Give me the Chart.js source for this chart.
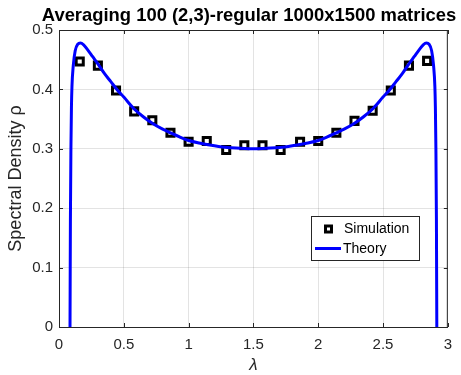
<!DOCTYPE html>
<html>
<head>
<meta charset="utf-8">
<script src="https://cdn.jsdelivr.net/npm/chart.js@4.4.0/dist/chart.umd.min.js"></script>
<style>
  html, body { margin: 0; padding: 0; background: #fff; }
  #wrap { width: 461px; height: 375px; position: relative; }
</style>
</head>
<body>
<div id="wrap"><canvas id="grafico"></canvas></div>
<script>
// simulated histogram (bin centres and densities)
const simX = [0.16, 0.30, 0.44, 0.58, 0.72, 0.86, 1.00, 1.14, 1.29, 1.43,
              1.57, 1.71, 1.86, 2.00, 2.14, 2.28, 2.42, 2.56, 2.70, 2.84];
const simY = [0.447, 0.440, 0.398, 0.363, 0.348, 0.327, 0.312, 0.313, 0.298, 0.306,
              0.306, 0.298, 0.312, 0.313, 0.327, 0.347, 0.364, 0.398, 0.440, 0.448];

// theory curve
const theoryX = [0.085, 0.088, 0.092, 0.096, 0.10, 0.11, 0.125, 0.145, 0.165, 0.19,
                 0.22, 0.26, 0.30, 0.35, 0.40, 0.45, 0.50, 0.58, 0.65, 0.72,
                 0.80, 0.86, 0.93, 1.00, 1.10, 1.20, 1.30, 1.40, 1.50,
                 1.60, 1.70, 1.80, 1.90, 2.00, 2.07, 2.14, 2.20, 2.28, 2.35,
                 2.42, 2.50, 2.55, 2.60, 2.65, 2.70, 2.74, 2.78, 2.81, 2.835,
                 2.855, 2.875, 2.89, 2.90, 2.904, 2.908, 2.912, 2.915];
const theoryY = [0, 0.18, 0.30, 0.37, 0.405, 0.44, 0.465, 0.476, 0.478, 0.475,
                 0.467, 0.455, 0.443, 0.427, 0.413, 0.399, 0.387, 0.367, 0.354, 0.343,
                 0.333, 0.327, 0.320, 0.314, 0.309, 0.305, 0.302, 0.301, 0.300,
                 0.301, 0.302, 0.305, 0.309, 0.314, 0.320, 0.327, 0.333, 0.343, 0.354,
                 0.367, 0.387, 0.399, 0.413, 0.427, 0.443, 0.455, 0.467, 0.475, 0.478,
                 0.476, 0.465, 0.44, 0.405, 0.37, 0.30, 0.18, 0];

const xTicks = [0, 0.5, 1, 1.5, 2, 2.5, 3];
const yTicks = [0, 0.1, 0.2, 0.3, 0.4, 0.5];

const titulo = "Averaging 100 (2,3)-regular 1000x1500 matrices";

const eixo = "#262626";
const fonte = "'Liberation Sans', Arial, sans-serif";

// box round the axes with inward ticks, as in MATLAB
const moldura = {
    id: "moldura",
    afterDatasetsDraw(chart){
        const ctx = chart.ctx;
        const a = chart.chartArea;
        const sx = chart.scales.x;
        const sy = chart.scales.y;
        ctx.save();
        ctx.strokeStyle = eixo;
        ctx.lineWidth = 1;
        ctx.strokeRect(a.left + 0.5, a.top + 0.5, a.right - a.left - 1, a.bottom - a.top);
        ctx.beginPath();
        xTicks.forEach(v => {
            const px = Math.round(sx.getPixelForValue(v)) + 0.5;
            ctx.moveTo(px, a.bottom); ctx.lineTo(px, a.bottom - 4);
            ctx.moveTo(px, a.top); ctx.lineTo(px, a.top + 4);
        });
        yTicks.forEach(v => {
            const py = Math.round(sy.getPixelForValue(v)) + 0.5;
            ctx.moveTo(a.left, py); ctx.lineTo(a.left + 4, py);
            ctx.moveTo(a.right, py); ctx.lineTo(a.right - 4, py);
        });
        ctx.stroke();
        ctx.restore();
    }
};

// title and legend box
const legenda = {
    id: "legenda",
    afterDraw(chart){
        const ctx = chart.ctx;
        ctx.save();
        ctx.fillStyle = "#000";
        ctx.font = "bold 18.4px " + fonte;
        ctx.textAlign = "center";
        ctx.textBaseline = "alphabetic";
        ctx.fillText(titulo, 249, 21);
        ctx.textAlign = "left";

        const bx = 311, by = 216, bw = 108, bh = 44;
        ctx.fillStyle = "#fff";
        ctx.fillRect(bx, by, bw, bh);
        ctx.strokeStyle = eixo;
        ctx.lineWidth = 1;
        ctx.strokeRect(bx + 0.5, by + 0.5, bw, bh);

        ctx.strokeStyle = "#000";
        ctx.lineWidth = 3;
        ctx.strokeRect(325.5, 226, 6, 6);

        ctx.strokeStyle = "#0000ff";
        ctx.beginPath();
        ctx.moveTo(315, 248.5);
        ctx.lineTo(341, 248.5);
        ctx.stroke();

        ctx.fillStyle = "#000";
        ctx.font = "14px " + fonte;
        ctx.textBaseline = "middle";
        ctx.fillText("Simulation", 344, 229);
        ctx.fillText("Theory", 343, 249);
        ctx.restore();
    }
};

new Chart(document.getElementById("grafico"), {
    type: "scatter",
    data: {
        datasets: [
            {
                label: "Theory",
                type: "line",
                data: theoryX.map((x, i) => ({ x: x, y: theoryY[i] })),
                borderColor: "#0000ff",
                borderWidth: 3,
                pointRadius: 0,
                fill: false,
                cubicInterpolationMode: "monotone",
                order: 0
            },
            {
                label: "Simulation",
                data: simX.map((x, i) => ({ x: x, y: simY[i] })),
                pointStyle: "rect",
                pointRadius: 5,
                pointBorderWidth: 3,
                pointBorderColor: "#000",
                pointBackgroundColor: "rgba(0,0,0,0)",
                order: 1
            }
        ]
    },
    options: {
        responsive: true,
        maintainAspectRatio: false,
        animation: false,
        layout: { padding: { left: 0, right: 12, top: 30, bottom: 0 } },
        plugins: {
            legend: { display: false },
            tooltip: { enabled: false },
            title: { display: false }
        },
        scales: {
            x: {
                type: "linear",
                min: 0,
                max: 3,
                afterBuildTicks: s => { s.ticks = xTicks.map(v => ({ value: v })); },
                afterFit: s => { s.height = 48; },
                ticks: {
                    color: eixo,
                    padding: 9,
                    font: { family: fonte, size: 15 },
                    callback: v => String(v)
                },
                grid: { color: "rgba(0,0,0,0.11)", drawTicks: false },
                border: { display: false },
                title: {
                    display: true,
                    text: "λ",
                    color: eixo,
                    padding: { top: 3, bottom: 0 },
                    font: { family: fonte, size: 17, style: "italic" }
                }
            },
            y: {
                type: "linear",
                min: 0,
                max: 0.5,
                afterBuildTicks: s => { s.ticks = yTicks.map(v => ({ value: v })); },
                afterFit: s => { s.width = 59; },
                ticks: {
                    color: eixo,
                    padding: 6,
                    font: { family: fonte, size: 15 },
                    callback: v => String(v)
                },
                grid: { color: "rgba(0,0,0,0.11)", drawTicks: false },
                border: { display: false },
                title: {
                    display: true,
                    text: "Spectral Density ρ",
                    color: eixo,
                    padding: { top: 5, bottom: 0 },
                    font: { family: fonte, size: 18 }
                }
            }
        }
    },
    plugins: [moldura, legenda]
});
</script>
</body>
</html>
